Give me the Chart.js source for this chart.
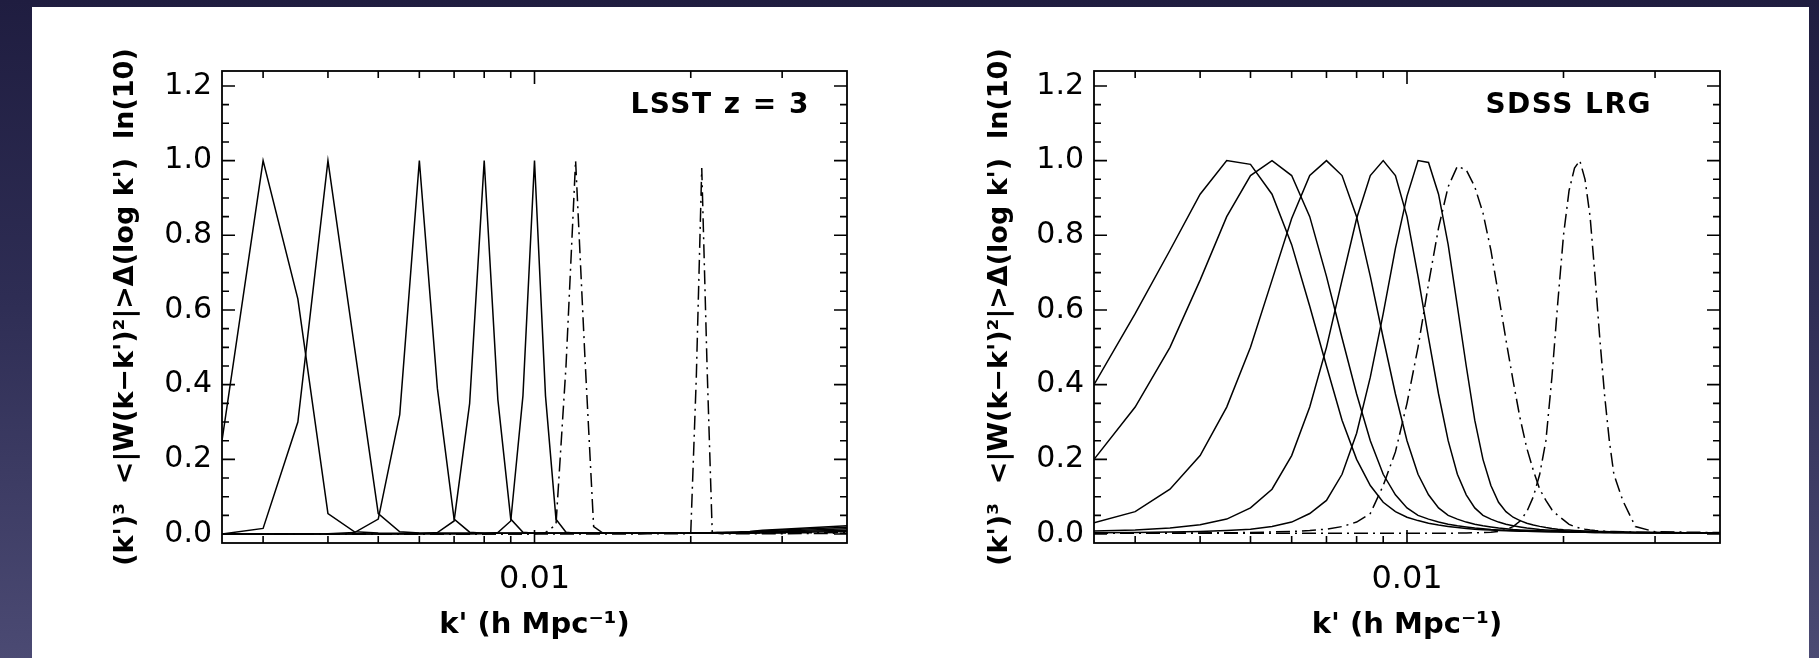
<!DOCTYPE html>
<html>
<head>
<meta charset="utf-8">
<title>Window functions</title>
<script src="https://cdn.jsdelivr.net/npm/chart.js@4.4.1/dist/chart.umd.min.js"></script>
<style>
  html, body { margin: 0; padding: 0; }
  body {
    width: 1819px; height: 658px; overflow: hidden; position: relative;
    background: linear-gradient(to bottom, #1f1d40 0%, #2e2d54 45%, #4b4a73 100%);
  }
  .sheet { position: absolute; left: 32px; top: 7px; width: 1777px; height: 651px; background: #fff; }
  canvas { position: absolute; top: 0; }
  #lsst { left: 0; }
  #sdss { left: 909px; }
</style>
</head>
<body>
<div class="sheet"></div>
<canvas id="lsst" width="909" height="658"></canvas>
<canvas id="sdss" width="910" height="658"></canvas>
<script>
// k' sample points shared by every window (h Mpc^-1)
const kGrid = [
  0.0025, 0.003, 0.0035, 0.004, 0.0045, 0.005, 0.0055, 0.006, 0.0065, 0.007,
  0.0075, 0.008, 0.0085, 0.009, 0.0095, 0.01, 0.0105, 0.011, 0.0115, 0.012,
  0.0125, 0.013, 0.0135, 0.014, 0.0145, 0.015, 0.0155, 0.016, 0.0165, 0.017,
  0.0175, 0.018, 0.0185, 0.019, 0.0195, 0.02, 0.0205, 0.021, 0.0215, 0.022,
  0.0225, 0.023, 0.0235, 0.024, 0.0245, 0.025, 0.026, 0.0275, 0.03, 0.04
];

// LSST z = 3 windows (last two drawn dash-dot)
const lsst1 = [
  0.25, 1.0, 0.63, 0.055, 0.006, 0.003, 0.002, 0.002, 0.002, 0.002,
  0.002, 0.002, 0.002, 0.002, 0.002, 0.002, 0.002, 0.002, 0.002, 0.002,
  0.002, 0.002, 0.002, 0.002, 0.002, 0.002, 0.002, 0.002, 0.002, 0.002,
  0.002, 0.002, 0.002, 0.002, 0.002, 0.003, 0.003, 0.003, 0.003, 0.004,
  0.004, 0.004, 0.005, 0.005, 0.005, 0.006, 0.007, 0.01, 0.013, 0.022
];
const lsst2 = [
  0.0, 0.015, 0.30, 1.0, 0.50, 0.055, 0.006, 0.003, 0.002, 0.002,
  0.002, 0.002, 0.002, 0.002, 0.002, 0.002, 0.002, 0.002, 0.002, 0.002,
  0.002, 0.002, 0.002, 0.002, 0.002, 0.002, 0.002, 0.002, 0.002, 0.002,
  0.002, 0.002, 0.002, 0.002, 0.002, 0.003, 0.003, 0.003, 0.003, 0.003,
  0.004, 0.004, 0.004, 0.004, 0.005, 0.005, 0.006, 0.008, 0.011, 0.018
];
const lsst3 = [
  0.0, 0.0, 0.0, 0.001, 0.004, 0.04, 0.32, 1.0, 0.39, 0.04,
  0.005, 0.002, 0.002, 0.002, 0.002, 0.002, 0.002, 0.002, 0.002, 0.002,
  0.002, 0.002, 0.002, 0.002, 0.002, 0.002, 0.002, 0.002, 0.002, 0.002,
  0.002, 0.002, 0.002, 0.002, 0.002, 0.002, 0.003, 0.003, 0.003, 0.003,
  0.003, 0.003, 0.003, 0.004, 0.004, 0.004, 0.005, 0.006, 0.008, 0.014
];
const lsst4 = [
  0.0, 0.0, 0.0, 0.0, 0.0, 0.0, 0.001, 0.001, 0.004, 0.035,
  0.35, 1.0, 0.36, 0.04, 0.005, 0.002, 0.002, 0.002, 0.002, 0.002,
  0.002, 0.002, 0.002, 0.002, 0.002, 0.002, 0.002, 0.002, 0.002, 0.002,
  0.002, 0.002, 0.002, 0.002, 0.002, 0.002, 0.002, 0.002, 0.002, 0.002,
  0.002, 0.002, 0.003, 0.003, 0.003, 0.003, 0.004, 0.005, 0.006, 0.010
];
const lsst5 = [
  0.0, 0.0, 0.0, 0.0, 0.0, 0.0, 0.0, 0.0, 0.0, 0.0,
  0.0, 0.001, 0.004, 0.035, 0.37, 1.0, 0.37, 0.04, 0.005, 0.002,
  0.002, 0.002, 0.002, 0.002, 0.002, 0.002, 0.002, 0.002, 0.002, 0.002,
  0.002, 0.002, 0.002, 0.002, 0.002, 0.002, 0.002, 0.002, 0.002, 0.002,
  0.002, 0.002, 0.002, 0.002, 0.002, 0.003, 0.003, 0.003, 0.004, 0.007
];
const lsst6 = [
  0.0, 0.0, 0.0, 0.0, 0.0, 0.0, 0.0, 0.0, 0.0, 0.0,
  0.0, 0.0, 0.0, 0.0, 0.0, 0.001, 0.004, 0.025, 0.45, 1.0,
  0.48, 0.02, 0.004, 0.002, 0.002, 0.002, 0.002, 0.002, 0.002, 0.002,
  0.002, 0.002, 0.002, 0.002, 0.002, 0.002, 0.002, 0.002, 0.002, 0.002,
  0.002, 0.002, 0.002, 0.002, 0.002, 0.002, 0.002, 0.003, 0.003, 0.004
];
const lsst7 = [
  0.0, 0.0, 0.0, 0.0, 0.0, 0.0, 0.0, 0.0, 0.0, 0.0,
  0.0, 0.0, 0.0, 0.0, 0.0, 0.0, 0.0, 0.0, 0.0, 0.0,
  0.0, 0.0, 0.0, 0.0, 0.0, 0.0, 0.0, 0.0, 0.001, 0.001,
  0.001, 0.001, 0.001, 0.001, 0.001, 0.003, 0.42, 0.98, 0.45, 0.004,
  0.002, 0.001, 0.001, 0.001, 0.001, 0.001, 0.001, 0.001, 0.001, 0.002
];

// SDSS LRG windows (last two drawn dash-dot)
const sdss1 = [
  0.40, 0.59, 0.76, 0.91, 1.0, 0.99, 0.91, 0.775, 0.61, 0.45,
  0.305, 0.20, 0.13, 0.085, 0.06, 0.045, 0.036, 0.029, 0.024, 0.0205,
  0.0175, 0.015, 0.013, 0.0115, 0.0105, 0.0097, 0.009, 0.0083, 0.0078, 0.0073,
  0.0068, 0.0065, 0.0062, 0.006, 0.0058, 0.0055, 0.0053, 0.0051, 0.0049, 0.0047,
  0.0045, 0.0044, 0.0042, 0.0041, 0.004, 0.0039, 0.0038, 0.0035, 0.0032, 0.0028
];
const sdss2 = [
  0.20, 0.34, 0.50, 0.68, 0.85, 0.96, 1.0, 0.96, 0.85, 0.69,
  0.525, 0.375, 0.25, 0.16, 0.105, 0.07, 0.05, 0.04, 0.032, 0.026,
  0.022, 0.019, 0.016, 0.014, 0.012, 0.011, 0.010, 0.0092, 0.0085, 0.008,
  0.0075, 0.007, 0.0065, 0.006, 0.0058, 0.0055, 0.0053, 0.005, 0.0048, 0.0046,
  0.0044, 0.0042, 0.004, 0.0039, 0.0038, 0.0037, 0.0036, 0.0033, 0.003, 0.0025
];
const sdss3 = [
  0.03, 0.06, 0.12, 0.21, 0.34, 0.50, 0.68, 0.845, 0.96, 1.0,
  0.96, 0.85, 0.69, 0.525, 0.375, 0.25, 0.16, 0.105, 0.07, 0.05,
  0.04, 0.032, 0.026, 0.022, 0.019, 0.016, 0.014, 0.012, 0.011, 0.010,
  0.0092, 0.0085, 0.008, 0.0075, 0.007, 0.0065, 0.006, 0.0058, 0.0055, 0.0053,
  0.005, 0.0048, 0.0046, 0.0044, 0.0042, 0.004, 0.0039, 0.0036, 0.0033, 0.0027
];
const sdss4 = [
  0.008, 0.011, 0.016, 0.025, 0.04, 0.07, 0.12, 0.21, 0.34, 0.50,
  0.68, 0.845, 0.96, 1.0, 0.96, 0.85, 0.69, 0.525, 0.375, 0.25,
  0.16, 0.105, 0.07, 0.05, 0.04, 0.032, 0.026, 0.022, 0.019, 0.016,
  0.014, 0.012, 0.011, 0.010, 0.0092, 0.0085, 0.008, 0.0075, 0.007, 0.0065,
  0.006, 0.0058, 0.0055, 0.0053, 0.005, 0.0048, 0.0046, 0.0042, 0.0038, 0.0027
];
const sdss5 = [
  0.0035, 0.004, 0.0055, 0.007, 0.0095, 0.013, 0.02, 0.032, 0.055, 0.09,
  0.16, 0.27, 0.42, 0.59, 0.765, 0.905, 1.0, 0.995, 0.91, 0.775,
  0.61, 0.45, 0.305, 0.20, 0.13, 0.085, 0.06, 0.045, 0.036, 0.029,
  0.024, 0.0205, 0.0175, 0.015, 0.013, 0.0115, 0.0105, 0.0097, 0.009, 0.0083,
  0.0078, 0.0073, 0.0068, 0.0065, 0.0062, 0.006, 0.0057, 0.005, 0.0043, 0.003
];
const sdss6 = [
  0.0025, 0.0026, 0.0028, 0.003, 0.0035, 0.004, 0.0055, 0.007, 0.0095, 0.013,
  0.02, 0.032, 0.055, 0.13, 0.22, 0.35, 0.50, 0.67, 0.82, 0.93,
  0.985, 0.975, 0.93, 0.86, 0.76, 0.64, 0.52, 0.41, 0.31, 0.23,
  0.17, 0.12, 0.09, 0.065, 0.05, 0.038, 0.026, 0.02, 0.016, 0.013,
  0.011, 0.0095, 0.0085, 0.0075, 0.007, 0.0065, 0.006, 0.005, 0.004, 0.003
];
const sdss7 = [
  0.002, 0.002, 0.002, 0.002, 0.002, 0.002, 0.002, 0.002, 0.002, 0.002,
  0.002, 0.002, 0.002, 0.002, 0.002, 0.002, 0.002, 0.002, 0.002, 0.002,
  0.0025, 0.003, 0.0035, 0.004, 0.005, 0.007, 0.012, 0.02, 0.035, 0.06,
  0.10, 0.16, 0.25, 0.42, 0.62, 0.80, 0.92, 0.98, 1.0, 0.95,
  0.85, 0.69, 0.52, 0.37, 0.25, 0.16, 0.09, 0.02, 0.006, 0.004
];

// axis ticks
const yTicks = [0, 0.2, 0.4, 0.6, 0.8, 1.0, 1.2];
const yMinorTicks = [0, 0.05, 0.1, 0.15, 0.2, 0.25, 0.3, 0.35, 0.4, 0.45, 0.5, 0.55, 0.6,
  0.65, 0.7, 0.75, 0.8, 0.85, 0.9, 0.95, 1.0, 1.05, 1.1, 1.15, 1.2];
const xTicks = [0.01];
const xMinorTicks = [0.003, 0.004, 0.005, 0.006, 0.007, 0.008, 0.009, 0.01, 0.02, 0.03];

const FONT = "'DejaVu Sans', 'Liberation Sans', sans-serif";
const Y_TITLE = "(k')³  <|W(k\u2212k')²|>\u0394(log k')  ln(10)";
const X_TITLE = "k' (h Mpc\u207B\u00B9)";

function toPoints(values) {
  return kGrid.map((k, i) => ({ x: k, y: values[i] }));
}

function makeDatasets(solid, dashed) {
  const line = { borderColor: '#000', borderWidth: 1.5, pointRadius: 0, tension: 0, fill: false };
  return solid.map(v => Object.assign({ data: toPoints(v) }, line))
    .concat(dashed.map(v => Object.assign({ data: toPoints(v), borderDash: [14, 5, 2, 5] }, line)));
}

// box around the plot, inward tick marks on all four sides, survey label
const framePlugin = {
  id: 'frame',
  afterDraw(chart, args, opts) {
    const { ctx, chartArea: a, scales: { x, y } } = chart;
    ctx.save();
    ctx.strokeStyle = '#000';
    ctx.lineWidth = 1.6;
    ctx.beginPath();
    yMinorTicks.forEach(v => {
      const py = y.getPixelForValue(v);
      const len = yTicks.includes(v) ? 13 : 7;
      ctx.moveTo(a.left, py); ctx.lineTo(a.left + len, py);
      ctx.moveTo(a.right, py); ctx.lineTo(a.right - len, py);
    });
    xMinorTicks.forEach(v => {
      const px = x.getPixelForValue(v);
      const len = xTicks.includes(v) ? 13 : 7;
      ctx.moveTo(px, a.bottom); ctx.lineTo(px, a.bottom - len);
      ctx.moveTo(px, a.top); ctx.lineTo(px, a.top + len);
    });
    ctx.stroke();
    ctx.lineWidth = 1.8;
    ctx.strokeRect(a.left, a.top, a.right - a.left, a.bottom - a.top);

    ctx.fillStyle = '#000';
    ctx.font = 'bold 28px ' + FONT;
    ctx.letterSpacing = '1.5px';
    ctx.textAlign = 'right';
    ctx.textBaseline = 'alphabetic';
    ctx.fillText(opts.text, a.right - opts.right, a.top + opts.baseline);
    ctx.restore();
  }
};

function makePanel(id, cfg) {
  return new Chart(document.getElementById(id), {
    type: 'line',
    data: { datasets: makeDatasets(cfg.solid, cfg.dashed) },
    options: {
      responsive: false,
      animation: false,
      devicePixelRatio: 1,
      events: [],
      layout: { padding: { left: 0, right: cfg.padRight, top: 71, bottom: 0 } },
      plugins: {
        legend: { display: false },
        tooltip: { enabled: false },
        frame: { text: cfg.label, right: cfg.labelRight, baseline: 42 }
      },
      scales: {
        x: {
          type: 'logarithmic',
          min: 0.0025,
          max: 0.04,
          afterFit: s => { s.height = 115; },
          afterBuildTicks: s => { s.ticks = xTicks.map(v => ({ value: v })); },
          grid: { display: false, drawTicks: false },
          border: { display: false },
          ticks: {
            autoSkip: false, maxRotation: 0, padding: 17, color: '#000',
            font: { family: FONT, size: 32 },
            callback: v => v.toFixed(2)
          },
          title: {
            display: true, text: X_TITLE, color: '#000',
            font: { family: FONT, size: 29, weight: 'bold' },
            padding: { bottom: 15 }
          }
        },
        y: {
          min: -0.024,
          max: 1.24,
          afterFit: s => { s.width = cfg.plotLeft; },
          afterBuildTicks: s => { s.ticks = yTicks.map(v => ({ value: v })); },
          grid: { display: false, drawTicks: false },
          border: { display: false },
          ticks: {
            padding: 10, color: '#000',
            font: { family: FONT, size: 30 },
            callback: v => v.toFixed(1)
          },
          title: {
            display: true, text: Y_TITLE, color: '#000',
            font: { family: FONT, size: 27, weight: 'bold' },
            padding: { top: cfg.yTitleOffset }
          }
        }
      }
    },
    plugins: [framePlugin]
  });
}

makePanel('lsst', {
  solid: [lsst1, lsst2, lsst3, lsst4, lsst5],
  dashed: [lsst6, lsst7],
  label: 'LSST z = 3',
  labelRight: 37,
  plotLeft: 222,
  padRight: 62,
  yTitleOffset: 110
});

makePanel('sdss', {
  solid: [sdss1, sdss2, sdss3, sdss4, sdss5],
  dashed: [sdss6, sdss7],
  label: 'SDSS LRG',
  labelRight: 68,
  plotLeft: 185,
  padRight: 99,
  yTitleOffset: 75
});
</script>
</body>
</html>
